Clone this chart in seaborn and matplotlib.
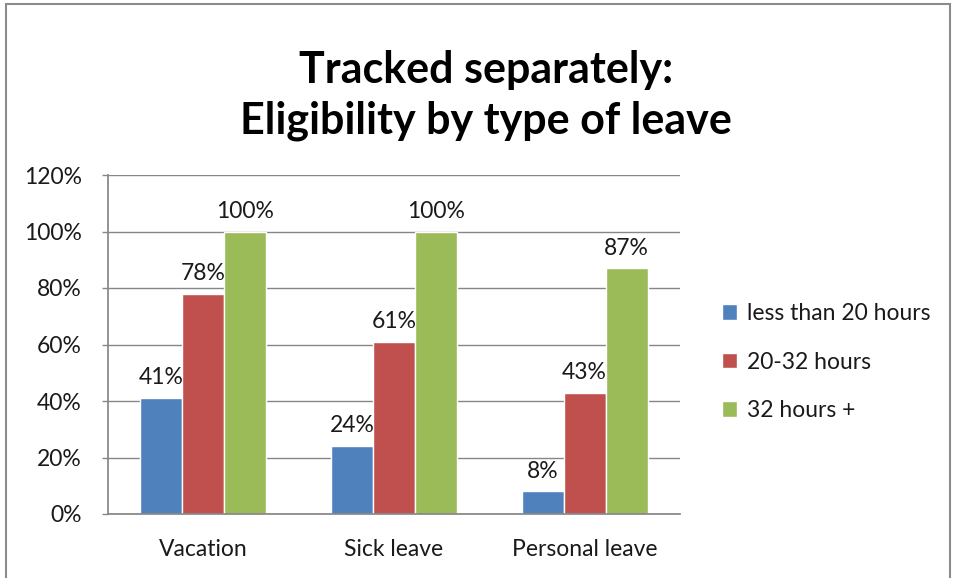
import matplotlib
matplotlib.use("Agg")
import matplotlib.pyplot as plt
from matplotlib.patches import Rectangle
from matplotlib.ticker import FuncFormatter
import seaborn as sns
import pandas as pd

categories = ["Vacation", "Sick leave", "Personal leave"]
series_names = ["less than 20 hours", "20-32 hours", "32 hours +"]
less_than_20 = [41, 24, 8]
h20_32 = [78, 61, 43]
h32_plus = [100, 100, 87]
colors = ["#4F81BD", "#C0504D", "#9BBB59"]
yticks = [0, 20, 40, 60, 80, 100, 120]

rows = []
for name, vals in zip(series_names, [less_than_20, h20_32, h32_plus]):
    for c, v in zip(categories, vals):
        rows.append({"category": c, "series": name, "value": v})
df = pd.DataFrame(rows)

sns.set_theme(style="white")
plt.rcParams["font.family"] = ["Lato", "DejaVu Sans"]

fig = plt.figure(figsize=(9.55, 5.78), dpi=100)
ax = fig.add_axes([108/955, 1-514/578, (680-108)/955, (514-175)/578])

sns.barplot(data=df, x="category", y="value", hue="series", palette=colors,
            order=categories, hue_order=series_names, width=0.66,
            saturation=1, ax=ax, legend=True, errorbar=None)

for cont in ax.containers:
    ax.bar_label(cont, labels=[f"{int(round(b.get_height()))}%" for b in cont],
                 padding=7, fontsize=16.5, color="#1a1a1a")

ax.set_ylim(0, 120)
ax.set_yticks(yticks)
ax.yaxis.set_major_formatter(FuncFormatter(lambda v, p: f"{int(v)}%"))
ax.yaxis.grid(True, color="#868686", linewidth=1.0)
ax.set_axisbelow(True)
ax.set_xlabel("")
ax.set_ylabel("")
for s in ["top", "right"]:
    ax.spines[s].set_visible(False)
ax.spines["left"].set_color("#868686")
ax.spines["bottom"].set_color("#868686")
ax.tick_params(axis="y", which="both", left=True, length=4, width=1, color="#868686",
               labelsize=16.5, pad=15, labelcolor="#1a1a1a")
ax.tick_params(axis="x", bottom=False, labelsize=16.5, pad=12, labelcolor="#1a1a1a")

leg = ax.legend(loc="center left", bbox_to_anchor=(1.073, 0.448), frameon=False,
                fontsize=16.5, handlelength=0.65, handleheight=0.65, handletextpad=0.45,
                labelspacing=1.2, borderpad=0, borderaxespad=0)
for t in leg.get_texts():
    t.set_color("#1a1a1a")

fig.text(0.509, 0.835, "Tracked separately:\nEligibility by type of leave",
         ha="center", va="center", fontsize=31, fontweight="bold",
         linespacing=1.3, color="black")

fig.patches.append(Rectangle((6/955, -0.02), 944/955, 1.02 - 4/578,
                             transform=fig.transFigure, fill=False,
                             edgecolor="#8c8c8c", linewidth=1.5))

fig.savefig("out.png", dpi=100)
